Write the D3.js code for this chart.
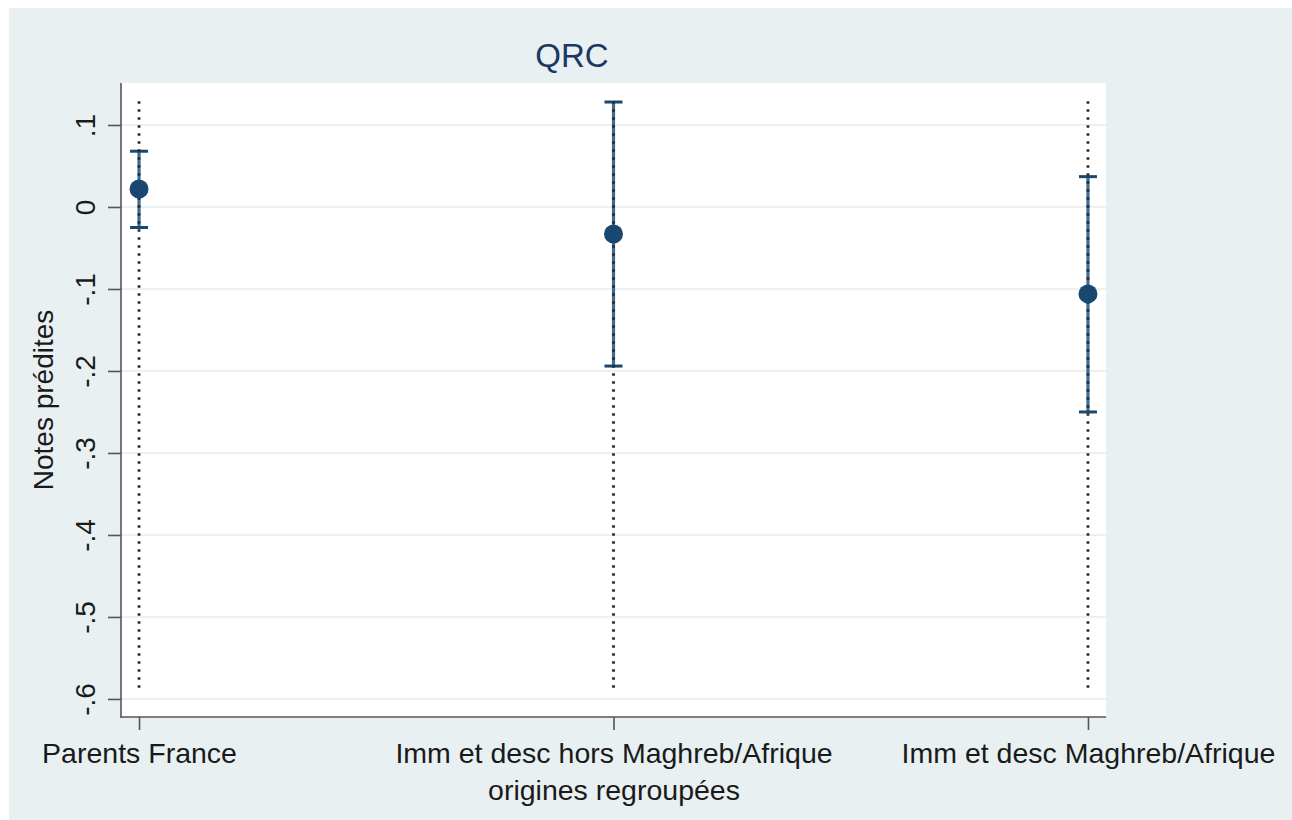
<!DOCTYPE html>
<html>
<head>
<meta charset="utf-8">
<script src="https://cdn.jsdelivr.net/npm/d3@7"></script>
<style>
  html, body { margin: 0; padding: 0; background: #fff; }
  svg { display: block; font-family: "Liberation Sans", Arial, sans-serif; }
</style>
</head>
<body>
<svg id="chart" width="1292" height="820"></svg>
<script>
//////////////////////////////////////
// Data

const categories = [1, 2, 3];
const catLabels = [
  ["Parents France"],
  ["Imm et desc hors Maghreb/Afrique", "origines regroupées"],
  ["Imm et desc Maghreb/Afrique"]
];
const predicted = [0.022, -0.033, -0.106];
const ciLow = [-0.025, -0.194, -0.250];
const ciHigh = [0.068, 0.128, 0.037];
const guideTop = 0.129, guideBottom = -0.591;

const yTicks = [0.1, 0, -0.1, -0.2, -0.3, -0.4, -0.5, -0.6];
const yTickLabels = [".1", "0", "-.1", "-.2", "-.3", "-.4", "-.5", "-.6"];

//////////////////////////////////////
// Layout

const W = 1292, H = 820;
const plot = {left: 121, right: 1106, top: 83, bottom: 717};
const navy = "#1a476f";

const svg = d3.select("#chart");

// graph region background (white sliver at top/left like the source)
svg.append("rect").attr("x", 9).attr("y", 8).attr("width", W - 9).attr("height", H - 8)
  .attr("fill", "#e8f0f2");
svg.append("rect").attr("x", plot.left).attr("y", plot.top)
  .attr("width", plot.right - plot.left).attr("height", plot.bottom - plot.top)
  .attr("fill", "#fff");

const x = d3.scaleLinear().domain([0.962, 3.038]).range([plot.left, plot.right]);
const y = d3.scaleLinear().domain([-0.622, 0.1512]).range([plot.bottom, plot.top]);

// grid lines
svg.append("g").selectAll("line").data(yTicks).enter().append("line")
  .attr("x1", plot.left).attr("x2", plot.right)
  .attr("y1", d => y(d)).attr("y2", d => y(d))
  .attr("stroke", "#e2ecef").attr("stroke-width", 1.6);

// y axis
const yAxis = svg.append("g")
  .attr("transform", "translate(" + plot.left + ",0)")
  .call(d3.axisLeft(y).tickValues(yTicks).tickSize(13).tickPadding(0)
    .tickFormat((d, i) => yTickLabels[i]));
yAxis.select(".domain").attr("d", "M0," + plot.top + "V" + (plot.bottom + 1))
  .attr("stroke", "#555").attr("stroke-width", 1.6);
yAxis.selectAll(".tick line").attr("stroke", "#555").attr("stroke-width", 1.6);
yAxis.selectAll(".tick text")
  .attr("x", 0).attr("dy", null)
  .attr("transform", "translate(-36,0) rotate(-90)")
  .attr("text-anchor", "middle").attr("dominant-baseline", "central")
  .attr("font-size", 28).attr("fill", "#1a1a1a");

// x axis
const xAxis = svg.append("g")
  .attr("transform", "translate(0," + plot.bottom + ")")
  .call(d3.axisBottom(x).tickValues(categories).tickSize(13).tickFormat(""));
xAxis.select(".domain").attr("d", "M" + plot.left + ",0H" + plot.right)
  .attr("stroke", "#555").attr("stroke-width", 1.6);
xAxis.selectAll(".tick line").attr("stroke", "#555").attr("stroke-width", 1.6);
xAxis.selectAll(".tick").each(function(d, i) {
  const t = d3.select(this).append("text")
    .attr("text-anchor", "middle").attr("font-size", 28.5).attr("fill", "#1a1a1a");
  catLabels[i].forEach((line, j) => {
    t.append("tspan").attr("x", 0).attr("y", 46 + j * 37).text(line);
  });
});

// axis title and chart title
svg.append("text")
  .attr("transform", "translate(43," + 400 + ") rotate(-90)")
  .attr("text-anchor", "middle").attr("dominant-baseline", "central")
  .attr("font-size", 28).attr("fill", "#1a1a1a")
  .text("Notes prédites");

svg.append("text")
  .attr("x", 572).attr("y", 67)
  .attr("text-anchor", "middle").attr("font-size", 33).attr("fill", "#1c3762")
  .text("QRC");

//////////////////////////////////////
// Marks

const g = svg.append("g");

// CI spikes
g.selectAll(".ci").data(categories).enter().append("line")
  .attr("class", "ci")
  .attr("x1", d => x(d)).attr("x2", d => x(d))
  .attr("y1", (d, i) => y(ciLow[i])).attr("y2", (d, i) => y(ciHigh[i]))
  .attr("stroke", "#3a6d98").attr("stroke-width", 3.2);

const capW = 9;
[ciLow, ciHigh].forEach(arr => {
  g.selectAll(null).data(categories).enter().append("line")
    .attr("x1", d => x(d) - capW).attr("x2", d => x(d) + capW)
    .attr("y1", (d, i) => y(arr[i])).attr("y2", (d, i) => y(arr[i]))
    .attr("stroke", navy).attr("stroke-width", 3);
});

// dotted guides
g.selectAll(".guide").data(categories).enter().append("line")
  .attr("class", "guide")
  .attr("x1", d => x(d)).attr("x2", d => x(d))
  .attr("y1", y(guideTop)).attr("y2", y(guideBottom))
  .attr("stroke", "#2a2a2a").attr("stroke-width", 2.8)
  .attr("stroke-dasharray", "2.6 5.4");

// predicted points
g.selectAll("circle").data(categories).enter().append("circle")
  .attr("cx", d => x(d)).attr("cy", (d, i) => y(predicted[i]))
  .attr("r", 9.5).attr("fill", navy);
</script>
</body>
</html>
